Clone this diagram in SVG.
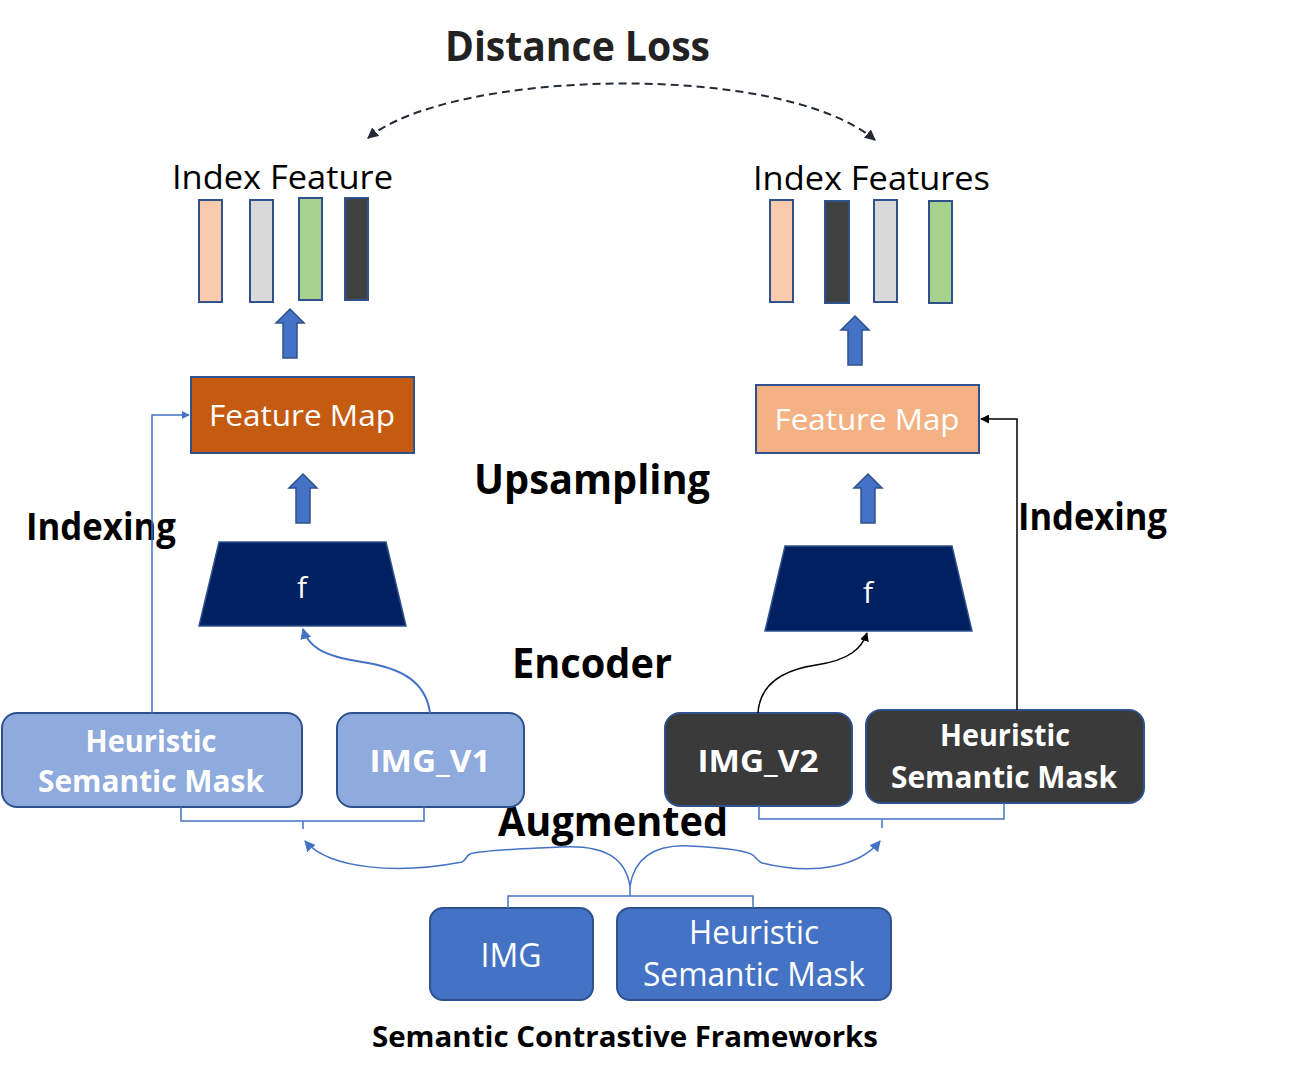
<svg xmlns="http://www.w3.org/2000/svg" xmlns:xlink="http://www.w3.org/1999/xlink" width="1296" height="1082" viewBox="0 0 1296 1082">
<style>
text{font-family:"Open Sans","Noto Sans","Liberation Sans",sans-serif;}
.b{font-weight:bold;}
.blk{fill:#000;}
.wh{fill:#fff;}
.box{stroke:#2F528F;stroke-width:2;}
.bar{stroke:#2F528F;stroke-width:2;}
.conB{fill:none;stroke:#4472C4;stroke-width:1.5;}
.conK{fill:none;stroke:#000;stroke-width:1.5;}
.uparrow{fill:#4472C4;stroke:#2F528F;stroke-width:1.5;}
</style>
<defs>
<marker id="mB" viewBox="0 0 10 10" refX="9" refY="5" markerWidth="8" markerHeight="8" markerUnits="userSpaceOnUse" orient="auto-start-reverse"><path d="M0,0 L10,5 L0,10 Z" fill="#4472C4"/></marker>
<marker id="mBs" viewBox="0 0 10 10" refX="9" refY="5" markerWidth="11" markerHeight="11" markerUnits="userSpaceOnUse" orient="auto-start-reverse"><path d="M0,0 L10,5 L0,10 Z" fill="#4472C4"/></marker>
<marker id="mK" viewBox="0 0 10 10" refX="9" refY="5" markerWidth="9" markerHeight="9" markerUnits="userSpaceOnUse" orient="auto-start-reverse"><path d="M0,0 L10,5 L0,10 Z" fill="#000"/></marker>
<marker id="mD" viewBox="0 0 10 10" refX="9" refY="5" markerWidth="11" markerHeight="11" markerUnits="userSpaceOnUse" orient="auto-start-reverse"><path d="M0,0 L10,5 L0,10 Z" fill="#222A35"/></marker>
<path id="blkarrow" d="M0,0 L14,14 L7,14 L7,49 L-7,49 L-7,14 L-14,14 Z"/>
</defs>

<!-- Labels -->
<g id="labels">
<text class="b" x="445" y="61" font-size="42" textLength="265" lengthAdjust="spacingAndGlyphs" fill="#222">Distance Loss</text>
<text class="b blk" x="474" y="494" font-size="42" textLength="236" lengthAdjust="spacingAndGlyphs">Upsampling</text>
<text class="b blk" x="26" y="540" font-size="37" textLength="150" lengthAdjust="spacingAndGlyphs">Indexing</text>
<text class="b blk" x="1018" y="530" font-size="37" textLength="149" lengthAdjust="spacingAndGlyphs">Indexing</text>
<text class="b blk" x="512" y="678" font-size="42" textLength="160" lengthAdjust="spacingAndGlyphs">Encoder</text>
<text class="b blk" x="498" y="836" font-size="42" textLength="230" lengthAdjust="spacingAndGlyphs">Augmented</text>
<text class="b blk" x="372" y="1047" font-size="29" textLength="506" lengthAdjust="spacingAndGlyphs">Semantic Contrastive Frameworks</text>
</g>

<!-- Index features left -->
<g id="index-feature-left">
<text class="blk" x="172" y="189" font-size="33" textLength="221" lengthAdjust="spacingAndGlyphs">Index Feature</text>
<rect class="bar" x="199" y="200" width="23" height="102" fill="#F8CBAD"/>
<rect class="bar" x="250" y="200" width="23" height="102" fill="#D9D9D9"/>
<rect class="bar" x="299" y="198" width="23" height="102" fill="#A9D18E"/>
<rect class="bar" x="345" y="198" width="23" height="102" fill="#404040"/>
</g>

<!-- Index features right -->
<g id="index-feature-right">
<text class="blk" x="753" y="190" font-size="33" textLength="237" lengthAdjust="spacingAndGlyphs">Index Features</text>
<rect class="bar" x="770" y="200" width="23" height="102" fill="#F8CBAD"/>
<rect class="bar" x="825" y="201" width="24" height="102" fill="#404040"/>
<rect class="bar" x="874" y="200" width="23" height="102" fill="#D9D9D9"/>
<rect class="bar" x="929" y="201" width="23" height="102" fill="#A9D18E"/>
</g>

<!-- Block arrows -->
<g id="block-arrows">
<use xlink:href="#blkarrow" href="#blkarrow" class="uparrow" x="290" y="309"/>
<use xlink:href="#blkarrow" href="#blkarrow" class="uparrow" x="855" y="316"/>
<use xlink:href="#blkarrow" href="#blkarrow" class="uparrow" x="303" y="474"/>
<use xlink:href="#blkarrow" href="#blkarrow" class="uparrow" x="868" y="474"/>
</g>

<!-- Feature maps -->
<g id="feature-map-left">
<rect class="box" x="191" y="377" width="223" height="76" fill="#C55A11"/>
<text class="wh" x="302" y="426" font-size="30" text-anchor="middle" textLength="186" lengthAdjust="spacingAndGlyphs">Feature Map</text>
</g>
<g id="feature-map-right">
<rect class="box" x="756" y="385" width="223" height="68" fill="#F4B183"/>
<text class="wh" x="867" y="430" font-size="30" text-anchor="middle" textLength="185" lengthAdjust="spacingAndGlyphs">Feature Map</text>
</g>

<!-- Encoders -->
<g id="encoder-left">
<polygon points="219,542 386,542 406,626 199,626" fill="#002060" stroke="#2F528F" stroke-width="1.5"/>
<text class="wh" x="302" y="598" font-size="30" text-anchor="middle">f</text>
</g>
<g id="encoder-right">
<polygon points="785,546 952,546 972,631 765,631" fill="#002060" stroke="#2F528F" stroke-width="1.5"/>
<text class="wh" x="868" y="603" font-size="30" text-anchor="middle">f</text>
</g>

<!-- Augmented views -->
<g id="hsm-left">
<rect class="box" x="2" y="713" width="300" height="94" rx="15" fill="#8FAADC"/>
<text class="b wh" x="151" y="752" font-size="31" text-anchor="middle" textLength="131" lengthAdjust="spacingAndGlyphs">Heuristic</text>
<text class="b wh" x="151" y="792" font-size="31" text-anchor="middle" textLength="226" lengthAdjust="spacingAndGlyphs">Semantic Mask</text>
</g>
<g id="img-v1">
<rect class="box" x="337" y="713" width="187" height="94" rx="15" fill="#8FAADC"/>
<text class="b wh" x="430" y="772" font-size="31" text-anchor="middle" textLength="121" lengthAdjust="spacingAndGlyphs">IMG_V1</text>
</g>
<g id="img-v2">
<rect class="box" x="665" y="713" width="187" height="93" rx="15" fill="#3A3A3A"/>
<text class="b wh" x="758" y="772" font-size="31" text-anchor="middle" textLength="121" lengthAdjust="spacingAndGlyphs">IMG_V2</text>
</g>
<g id="hsm-right">
<rect class="box" x="866" y="710" width="278" height="93" rx="15" fill="#3A3A3A"/>
<text class="b wh" x="1005" y="746" font-size="31" text-anchor="middle" textLength="130" lengthAdjust="spacingAndGlyphs">Heuristic</text>
<text class="b wh" x="1004" y="788" font-size="31" text-anchor="middle" textLength="226" lengthAdjust="spacingAndGlyphs">Semantic Mask</text>
</g>

<!-- Originals -->
<g id="img">
<rect class="box" x="430" y="908" width="163" height="92" rx="13" fill="#4472C4"/>
<text class="wh" x="511" y="967" font-size="32" text-anchor="middle" textLength="61" lengthAdjust="spacingAndGlyphs">IMG</text>
</g>
<g id="hsm-bottom">
<rect class="box" x="617" y="908" width="274" height="92" rx="13" fill="#4472C4"/>
<text class="wh" x="754" y="944" font-size="32" text-anchor="middle" textLength="130" lengthAdjust="spacingAndGlyphs">Heuristic</text>
<text class="wh" x="754" y="986" font-size="32" text-anchor="middle" textLength="222" lengthAdjust="spacingAndGlyphs">Semantic Mask</text>
</g>

<!-- Connectors -->
<g id="connectors">
<path d="M368,138 C450,70 780,60 875,140" fill="none" stroke="#222A35" stroke-width="2" stroke-dasharray="8,5" marker-start="url(#mD)" marker-end="url(#mD)"/>
<path class="conB" d="M152,713 L152,415 L189,415" marker-end="url(#mB)"/>
<path class="conK" d="M1017,710 L1017,419 L981,419" marker-end="url(#mK)"/>
<path d="M430,713 C426,682 402,668 362,662 C322,656 308,646 303,629" fill="none" stroke="#4472C4" stroke-width="2" marker-end="url(#mBs)"/>
<path d="M758,713 C760,684 782,670 816,665 C850,660 862,648 867,633" fill="none" stroke="#000" stroke-width="1.5" marker-end="url(#mK)"/>
<path class="conB" d="M181,807 L181,821 L424,821 L424,807 M303,821 L303,829"/>
<path class="conB" d="M759,806 L759,819 L1004,819 L1004,803 M882,819 L882,828"/>
<path class="conB" d="M508,908 L508,896 L753,896 L753,908 M630,896 L630,884"/>
<path class="conB" d="M630,886 C626,862 610,844 560,847 C520,849 480,850 470,854 C466,856 466,860 462,862 C400,874 330,870 305,841" marker-end="url(#mBs)"/>
<path class="conB" d="M630,886 C634,862 650,844 690,846 C730,848 750,852 754,856 C757,859 758,861 762,863 C815,876 860,866 880,841" marker-end="url(#mBs)"/>
</g>
</svg>
